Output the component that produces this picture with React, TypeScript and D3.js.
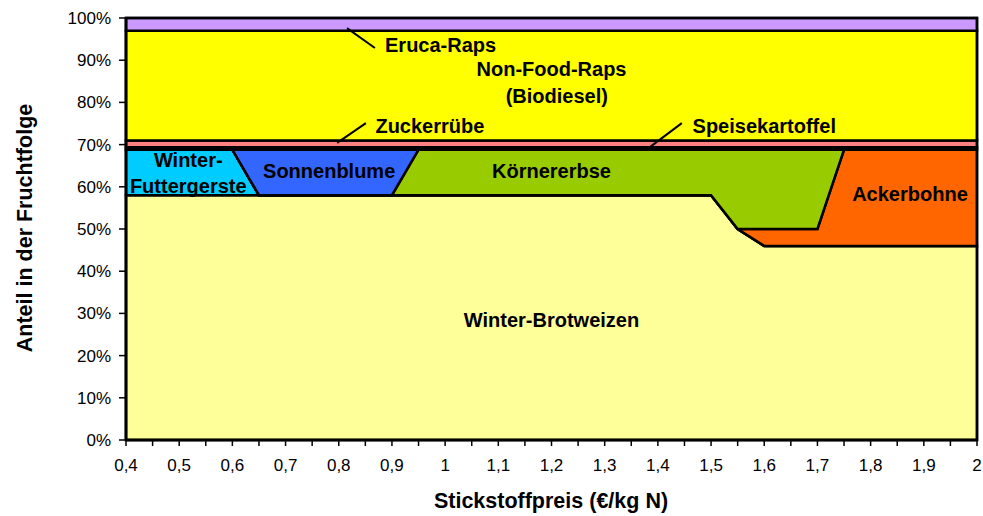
import React from "react";
import * as d3 from "d3";

const xValues = [0.4, 0.5, 0.6, 0.65, 0.7, 0.8, 0.9, 0.95, 1.0, 1.1, 1.2, 1.3, 1.4, 1.5, 1.55, 1.6, 1.7, 1.75, 1.8, 1.9, 2.0];

const winterBrotweizen = [58, 58, 58, 58, 58, 58, 58, 58, 58, 58, 58, 58, 58, 58, 50, 46, 46, 46, 46, 46, 46];
const winterFuttergerste = [10.8, 10.8, 10.8, 0, 0, 0, 0, 0, 0, 0, 0, 0, 0, 0, 0, 0, 0, 0, 0, 0, 0];
const ackerbohne = [0, 0, 0, 0, 0, 0, 0, 0, 0, 0, 0, 0, 0, 0, 0, 4, 4, 22.8, 22.8, 22.8, 22.8];
const koernererbse = [0, 0, 0, 0, 0, 0, 0, 10.8, 10.8, 10.8, 10.8, 10.8, 10.8, 10.8, 18.8, 18.8, 18.8, 0, 0, 0, 0];
const sonnenblume = [0, 0, 0, 10.8, 10.8, 10.8, 10.8, 0, 0, 0, 0, 0, 0, 0, 0, 0, 0, 0, 0, 0, 0];
const speisekartoffel = xValues.map(() => 0.6);
const zuckerruebe = xValues.map(() => 1.6);
const nonFoodRaps = xValues.map(() => 26);
const erucaRaps = xValues.map(() => 3);

const seriesNames = [
  "Winter-Brotweizen",
  "Winter-Futtergerste",
  "Ackerbohne",
  "Körnererbse",
  "Sonnenblume",
  "Speisekartoffel",
  "Zuckerrübe",
  "Non-Food-Raps",
  "Eruca-Raps",
];
const seriesValues = [
  winterBrotweizen,
  winterFuttergerste,
  ackerbohne,
  koernererbse,
  sonnenblume,
  speisekartoffel,
  zuckerruebe,
  nonFoodRaps,
  erucaRaps,
];
const seriesColors = [
  "#FFFF99",
  "#00CCFF",
  "#FF6600",
  "#99CC00",
  "#3366FF",
  "#993300",
  "#FF8080",
  "#FFFF00",
  "#CC99FF",
];

const xTickLabels = [0.4, 0.5, 0.6, 0.7, 0.8, 0.9, 1.0, 1.1, 1.2, 1.3, 1.4, 1.5, 1.6, 1.7, 1.8, 1.9, 2.0];
const yTickValues = [0, 10, 20, 30, 40, 50, 60, 70, 80, 90, 100];

const W = 983;
const H = 516;
const left = 126;
const right = 977;
const top = 18;
const bottom = 440;

export default function App() {
  const x = d3.scaleLinear().domain([0.4, 2.0]).range([left, right]);
  const y = d3.scaleLinear().domain([0, 100]).range([bottom, top]);

  const table = xValues.map((xv, i) => {
    const row: any = { x: xv };
    seriesNames.forEach((n, s) => (row[n] = seriesValues[s][i]));
    return row;
  });
  const stacked = d3.stack<any>().keys(seriesNames)(table);
  const area = d3
    .area<any>()
    .x((d) => x(d.data.x))
    .y0((d) => y(d[0]))
    .y1((d) => y(d[1]));

  const minorTicks = d3.range(0, 33).map((i) => 0.4 + i * 0.05);
  const fmt = (v: number) => (Math.round(v * 10) / 10).toString().replace(".", ",");

  const labelFont = { fontFamily: "Arial, 'Liberation Sans', sans-serif", fontWeight: 700, fontSize: 20 } as const;
  const tickFont = { fontFamily: "Arial, 'Liberation Sans', sans-serif", fontSize: 17 } as const;

  const labels: { t: string; x: number; y: number; a?: string }[] = [
    { t: "Eruca-Raps", x: 0.887, y: 93.5, a: "start" },
    { t: "Non-Food-Raps", x: 1.2, y: 87.8 },
    { t: "(Biodiesel)", x: 1.21, y: 81.6 },
    { t: "Zuckerrübe", x: 0.869, y: 74.4, a: "start" },
    { t: "Speisekartoffel", x: 1.6, y: 74.4 },
    { t: "Winter-", x: 0.517, y: 66.4 },
    { t: "Futtergerste", x: 0.517, y: 60.2 },
    { t: "Sonnenblume", x: 0.782, y: 63.8 },
    { t: "Körnererbse", x: 1.2, y: 63.8 },
    { t: "Ackerbohne", x: 1.874, y: 58.3 },
    { t: "Winter-Brotweizen", x: 1.2, y: 28.4 },
  ];

  const leaders = [
    { x1: 0.8155, y1: 97.6, x2: 0.868, y2: 92.9 },
    { x1: 0.797, y1: 70.4, x2: 0.851, y2: 75.1 },
    { x1: 1.385, y1: 69.4, x2: 1.445, y2: 75.1 },
  ];

  return (
    <svg width={W} height={H} style={{ position: "absolute", left: 0, top: 0, background: "#fff" }}>
      {stacked.map((s, i) => (
        <path key={seriesNames[i]} d={area(s) || ""} fill={seriesColors[i]} stroke="#000" strokeWidth={2.5} strokeLinejoin="miter" />
      ))}
      <rect x={left} y={top} width={right - left} height={bottom - top} fill="none" stroke="#000" strokeWidth={2.5} />
      {leaders.map((l, i) => (
        <line key={i} x1={x(l.x1)} y1={y(l.y1)} x2={x(l.x2)} y2={y(l.y2)} stroke="#000" strokeWidth={2} />
      ))}
      {/* y axis */}
      <line x1={left} y1={top} x2={left} y2={bottom} stroke="#000" strokeWidth={2.5} />
      {yTickValues.map((v) => (
        <g key={v}>
          <line x1={left - 7} x2={left} y1={y(v)} y2={y(v)} stroke="#000" strokeWidth={1.5} />
          <text x={111} y={y(v)} dy="0.35em" textAnchor="end" {...tickFont} fill="#000">
            {v}%
          </text>
        </g>
      ))}
      {/* x axis */}
      <line x1={left} y1={bottom} x2={right} y2={bottom} stroke="#000" strokeWidth={2.5} />
      {minorTicks.map((v, i) => (
        <line key={i} x1={x(v)} x2={x(v)} y1={bottom} y2={bottom + 6} stroke="#000" strokeWidth={1.5} />
      ))}
      {xTickLabels.map((v) => (
        <text key={v} x={x(v)} y={471} textAnchor="middle" {...tickFont} fill="#000">
          {fmt(v)}
        </text>
      ))}
      {labels.map((l) => (
        <text key={l.t} x={x(l.x)} y={y(l.y)} dy="0.35em" textAnchor={(l.a as any) || "middle"} {...labelFont} fill="#000">
          {l.t}
        </text>
      ))}
      <text x={551} y={508} textAnchor="middle" fontFamily="Arial, 'Liberation Sans', sans-serif" fontWeight={700} fontSize={21.5}>
        Stickstoffpreis (€/kg N)
      </text>
      <text
        transform={`translate(32,228) rotate(-90)`}
        textAnchor="middle"
        fontFamily="Arial, 'Liberation Sans', sans-serif"
        fontWeight={700}
        fontSize={21.5}
      >
        Anteil in der Fruchtfolge
      </text>
    </svg>
  );
}
